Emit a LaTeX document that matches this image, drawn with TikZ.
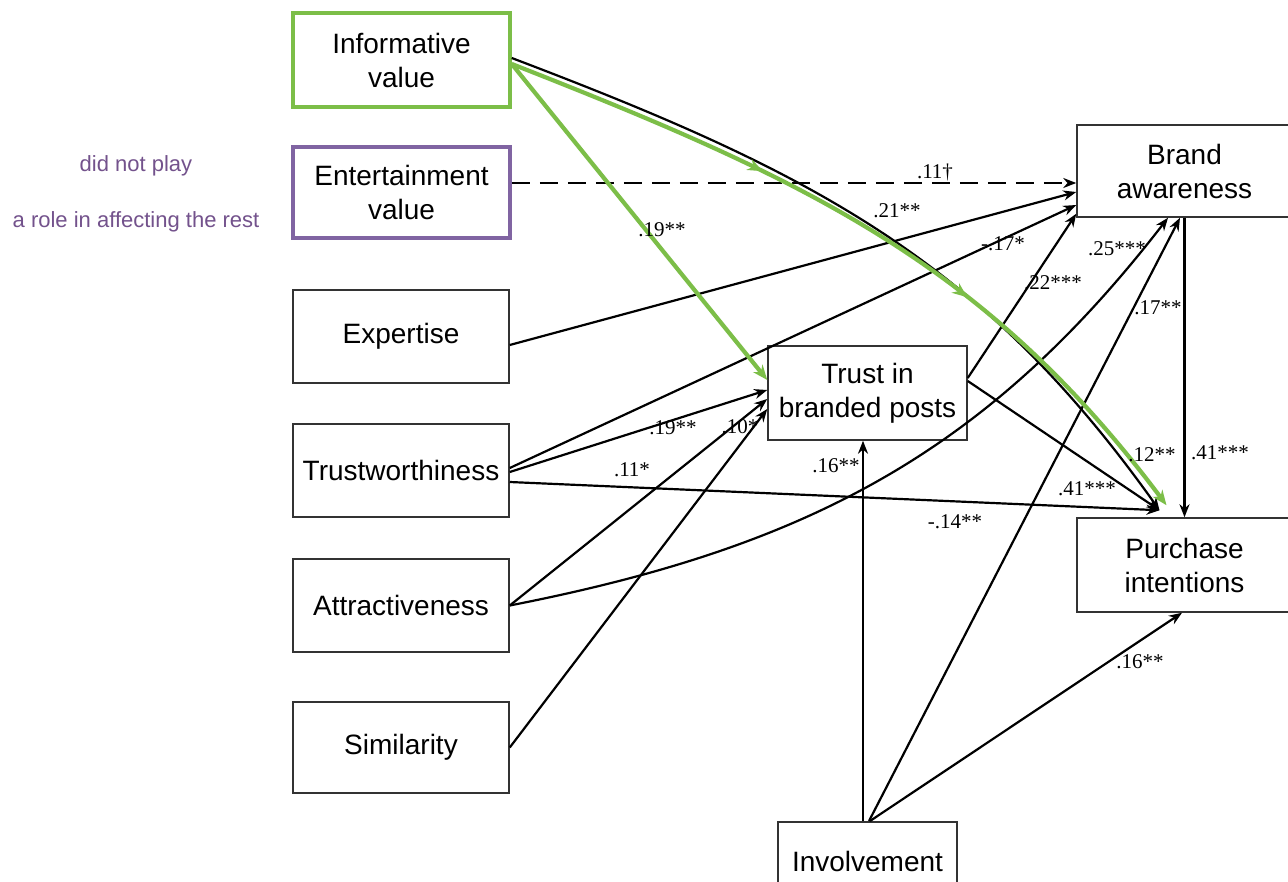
\documentclass[tikz,border=0pt]{standalone}
\usepackage{fontspec}
\setmainfont{Liberation Serif}
\setsansfont{Liberation Sans}
\usetikzlibrary{arrows.meta,decorations.markings}
\definecolor{grn}{RGB}{124,190,72}
\definecolor{prp}{RGB}{128,100,162}
\definecolor{prptext}{RGB}{115,82,140}
\begin{document}
\begin{tikzpicture}[x=1pt,y=-1pt,
  box/.style={draw=black!80, line width=1.5pt, fill=white, align=center, inner sep=0pt,
    font=\sffamily\fontsize{28}{34}\selectfont},
  gbox/.style={box, draw=grn, line width=3.5pt},
  pbox/.style={box, draw=prp, line width=3.5pt},
  arr/.style={line width=2.2pt, -{Stealth[length=13pt,width=10pt]}},
  darr/.style={arr, dash pattern=on 18pt off 10pt},
  garr/.style={draw=grn, line width=4.2pt, -{Stealth[length=15pt,width=12pt]}},
  gmid/.style={postaction={decorate}, decoration={markings,
      mark=at position 0.34 with {\arrow[color=grn]{Stealth[length=15pt,width=12pt]}},
      mark=at position 0.64 with {\arrow[color=grn]{Stealth[length=15pt,width=12pt]}}}},
  lab/.style={font=\fontsize{21}{23}\selectfont, inner sep=1pt},
  note/.style={text=prptext, font=\sffamily\fontsize{22}{26}\selectfont}
]
\useasboundingbox (0,0) rectangle (1288,881);
\fill[white] (0,0) rectangle (1288,881);

% nodes
\node[gbox, minimum width=217pt, minimum height=94pt] (info) at (401.5,60) {Informative\\value};
\node[pbox, minimum width=217pt, minimum height=91pt] (ent) at (401.5,192.5) {Entertainment\\value};
\node[box, minimum width=216pt, minimum height=93pt] (exp) at (401,336.5) {Expertise};
\node[box, minimum width=216pt, minimum height=93pt] (trw) at (401,470.5) {Trustworthiness};
\node[box, minimum width=216pt, minimum height=93pt] (att) at (401,605.5) {Attractiveness};
\node[box, minimum width=216pt, minimum height=91pt] (sim) at (401,747.5) {Similarity};
\node[box, minimum width=199pt, minimum height=94pt] (trust) at (867.5,393) {Trust in\\branded posts};
\node[box, minimum width=215pt, minimum height=92pt] (brand) at (1184.5,171) {Brand\\awareness};
\node[box, minimum width=215pt, minimum height=94pt] (purch) at (1184.5,565) {Purchase\\intentions};
\node[box, minimum width=179pt, minimum height=80pt, anchor=north] (inv) at (867.5,821) {Involvement};

\node[note] (n1) at (136,166) {did not play};
\node[note] (n2) at (136,222) {a role in affecting the rest};

% connectors
\draw[darr] ([yshift=9.5pt]ent.east) -- ([yshift=-12pt]brand.west);
\draw[arr] ([yshift=-8.5pt]exp.east) -- ([yshift=-21pt]brand.west);
\draw[arr] ([yshift=2.5pt]trw.east) -- ([yshift=-34pt]brand.west);
\draw[arr] ([yshift=-1.5pt]trw.east) -- ([yshift=3pt]trust.west);
\draw[arr] ([yshift=-11.5pt]trw.east) -- ([xshift=-25pt,yshift=7pt]purch.north);
\draw[arr] (att.east) -- ([yshift=-6pt]trust.west);
\draw[arr] (att.east) .. controls (803,548) and (984,456) .. ([xshift=-16.5pt]brand.south);
\draw[arr] (sim.east) -- ([yshift=-16pt]trust.west);
\draw[arr] ([yshift=15pt]trust.east) -- ([yshift=4pt]brand.south west);
\draw[arr] ([yshift=12pt]trust.east) -- ([xshift=-25pt,yshift=7pt]purch.north);
\draw[arr] ([xshift=-4.5pt]inv.north) -- ([xshift=-4.5pt]trust.south);
\draw[arr] ([xshift=1.5pt]inv.north) -- ([xshift=-4.5pt]brand.south);
\draw[arr] ([xshift=2.5pt]inv.north) -- ([xshift=-2.5pt]purch.south);
\draw[arr] (brand.south) -- (purch.north);
\draw[arr] ([yshift=2pt]info.east) .. controls (812,172) and (980,258) .. ([xshift=-25pt,yshift=7pt]purch.north);

% green highlight
\draw[garr] ([yshift=-4pt]info.east) -- ([yshift=13pt]trust.west);
\draw[garr, gmid] ([yshift=-4pt]info.east) .. controls (808,180) and (986,264) .. ([xshift=-18pt,yshift=12pt]purch.north);

% labels
\node[lab] (l1) at (662,230) {.19**};
\node[lab] (l2) at (935,172) {.11\textdagger};
\node[lab] (l3) at (897,211) {.21**};
\node[lab] (l4) at (1003,244) {-.17*};
\node[lab] (l5) at (1117,249) {.25***};
\node[lab] (l6) at (1053,283) {.22***};
\node[lab] (l7) at (1158,308) {.17**};
\node[lab] (l8) at (673,428) {.19**};
\node[lab] (l9) at (740,427) {.10*};
\node[lab] (l10) at (632,470) {.11*};
\node[lab] (l11) at (836,466) {.16**};
\node[lab] (l12) at (955,522) {-.14**};
\node[lab] (l13) at (1087,489) {.41***};
\node[lab] (l14) at (1152,455) {.12**};
\node[lab] (l15) at (1220,453) {.41***};
\node[lab] (l16) at (1140,662) {.16**};
\end{tikzpicture}
\end{document}
